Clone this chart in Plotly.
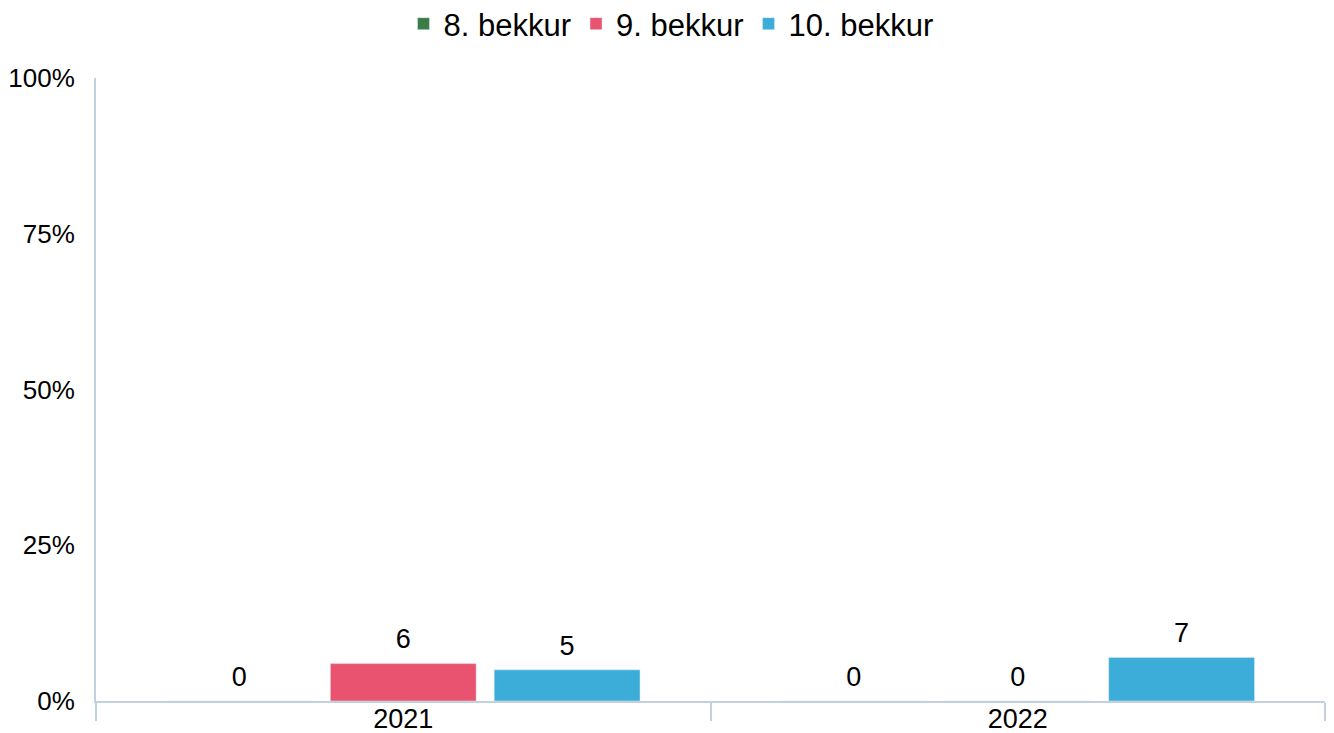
import plotly.graph_objects as go

years = ["2021", "2022"]
series_names = ["8. bekkur", "9. bekkur", "10. bekkur"]
values_8 = [0, 0]
values_9 = [6, 0]
values_10 = [5, 7]
colors = ["#3a7d44", "#e9536f", "#3badd8"]
y_ticks = [0, 25, 50, 75, 100]
y_tick_text = ["0%", "25%", "50%", "75%", "100%"]

W, H = 1326, 725  # page body has an 8px margin

fig = go.Figure()
all_vals = [values_8, values_9, values_10]
for i, (name, vals, col) in enumerate(zip(series_names, all_vals, colors)):
    fig.add_trace(go.Bar(
        x=years, y=vals, name=name, marker_color=col,
        offsetgroup=str(i), legendgroup=str(i),
    ))
for i, (name, vals, col) in enumerate(zip(series_names, all_vals, colors)):
    fig.add_trace(go.Scatter(
        x=years, y=vals, name=name, mode="markers+text",
        marker=dict(size=12, color="rgba(0,0,0,0)"),
        text=[str(v) for v in vals], textposition="top center",
        textfont=dict(size=27, color="#000000"),
        offsetgroup=str(i), legendgroup=str(i), showlegend=False,
        cliponaxis=False, hoverinfo="skip",
    ))

fig.update_layout(
    barmode="group", bargap=0.2, bargroupgap=0.11,
    scattermode="group", scattergap=0.2,
    width=W, height=H,
    margin=dict(l=88, r=9, t=70, b=32, autoexpand=False),
    paper_bgcolor="white", plot_bgcolor="white",
    font=dict(family="Liberation Sans, Arial, sans-serif", size=27, color="#000000"),
    legend=dict(orientation="h", xref="container", x=0.5, xanchor="center",
                yref="container", y=1 - 16 / H, yanchor="middle",
                font=dict(size=31), itemwidth=30, traceorder="normal"),
    showlegend=True,
)
fig.update_xaxes(
    showline=True, linecolor="#c3d0df", linewidth=2,
    ticks="outside", tickson="boundaries", ticklen=18, tickcolor="#c3d0df", tickwidth=2,
    ticklabelstandoff=-7, showgrid=False, automargin=False,
    tickfont=dict(size=27),
)
fig.update_yaxes(
    range=[0, 100], tickvals=y_ticks, ticktext=y_tick_text,
    showline=True, linecolor="#c3d0df", linewidth=2,
    showgrid=False, zeroline=False, ticklabelstandoff=14, automargin=False,
    tickfont=dict(size=26),
)
fig.write_html("out.html")
